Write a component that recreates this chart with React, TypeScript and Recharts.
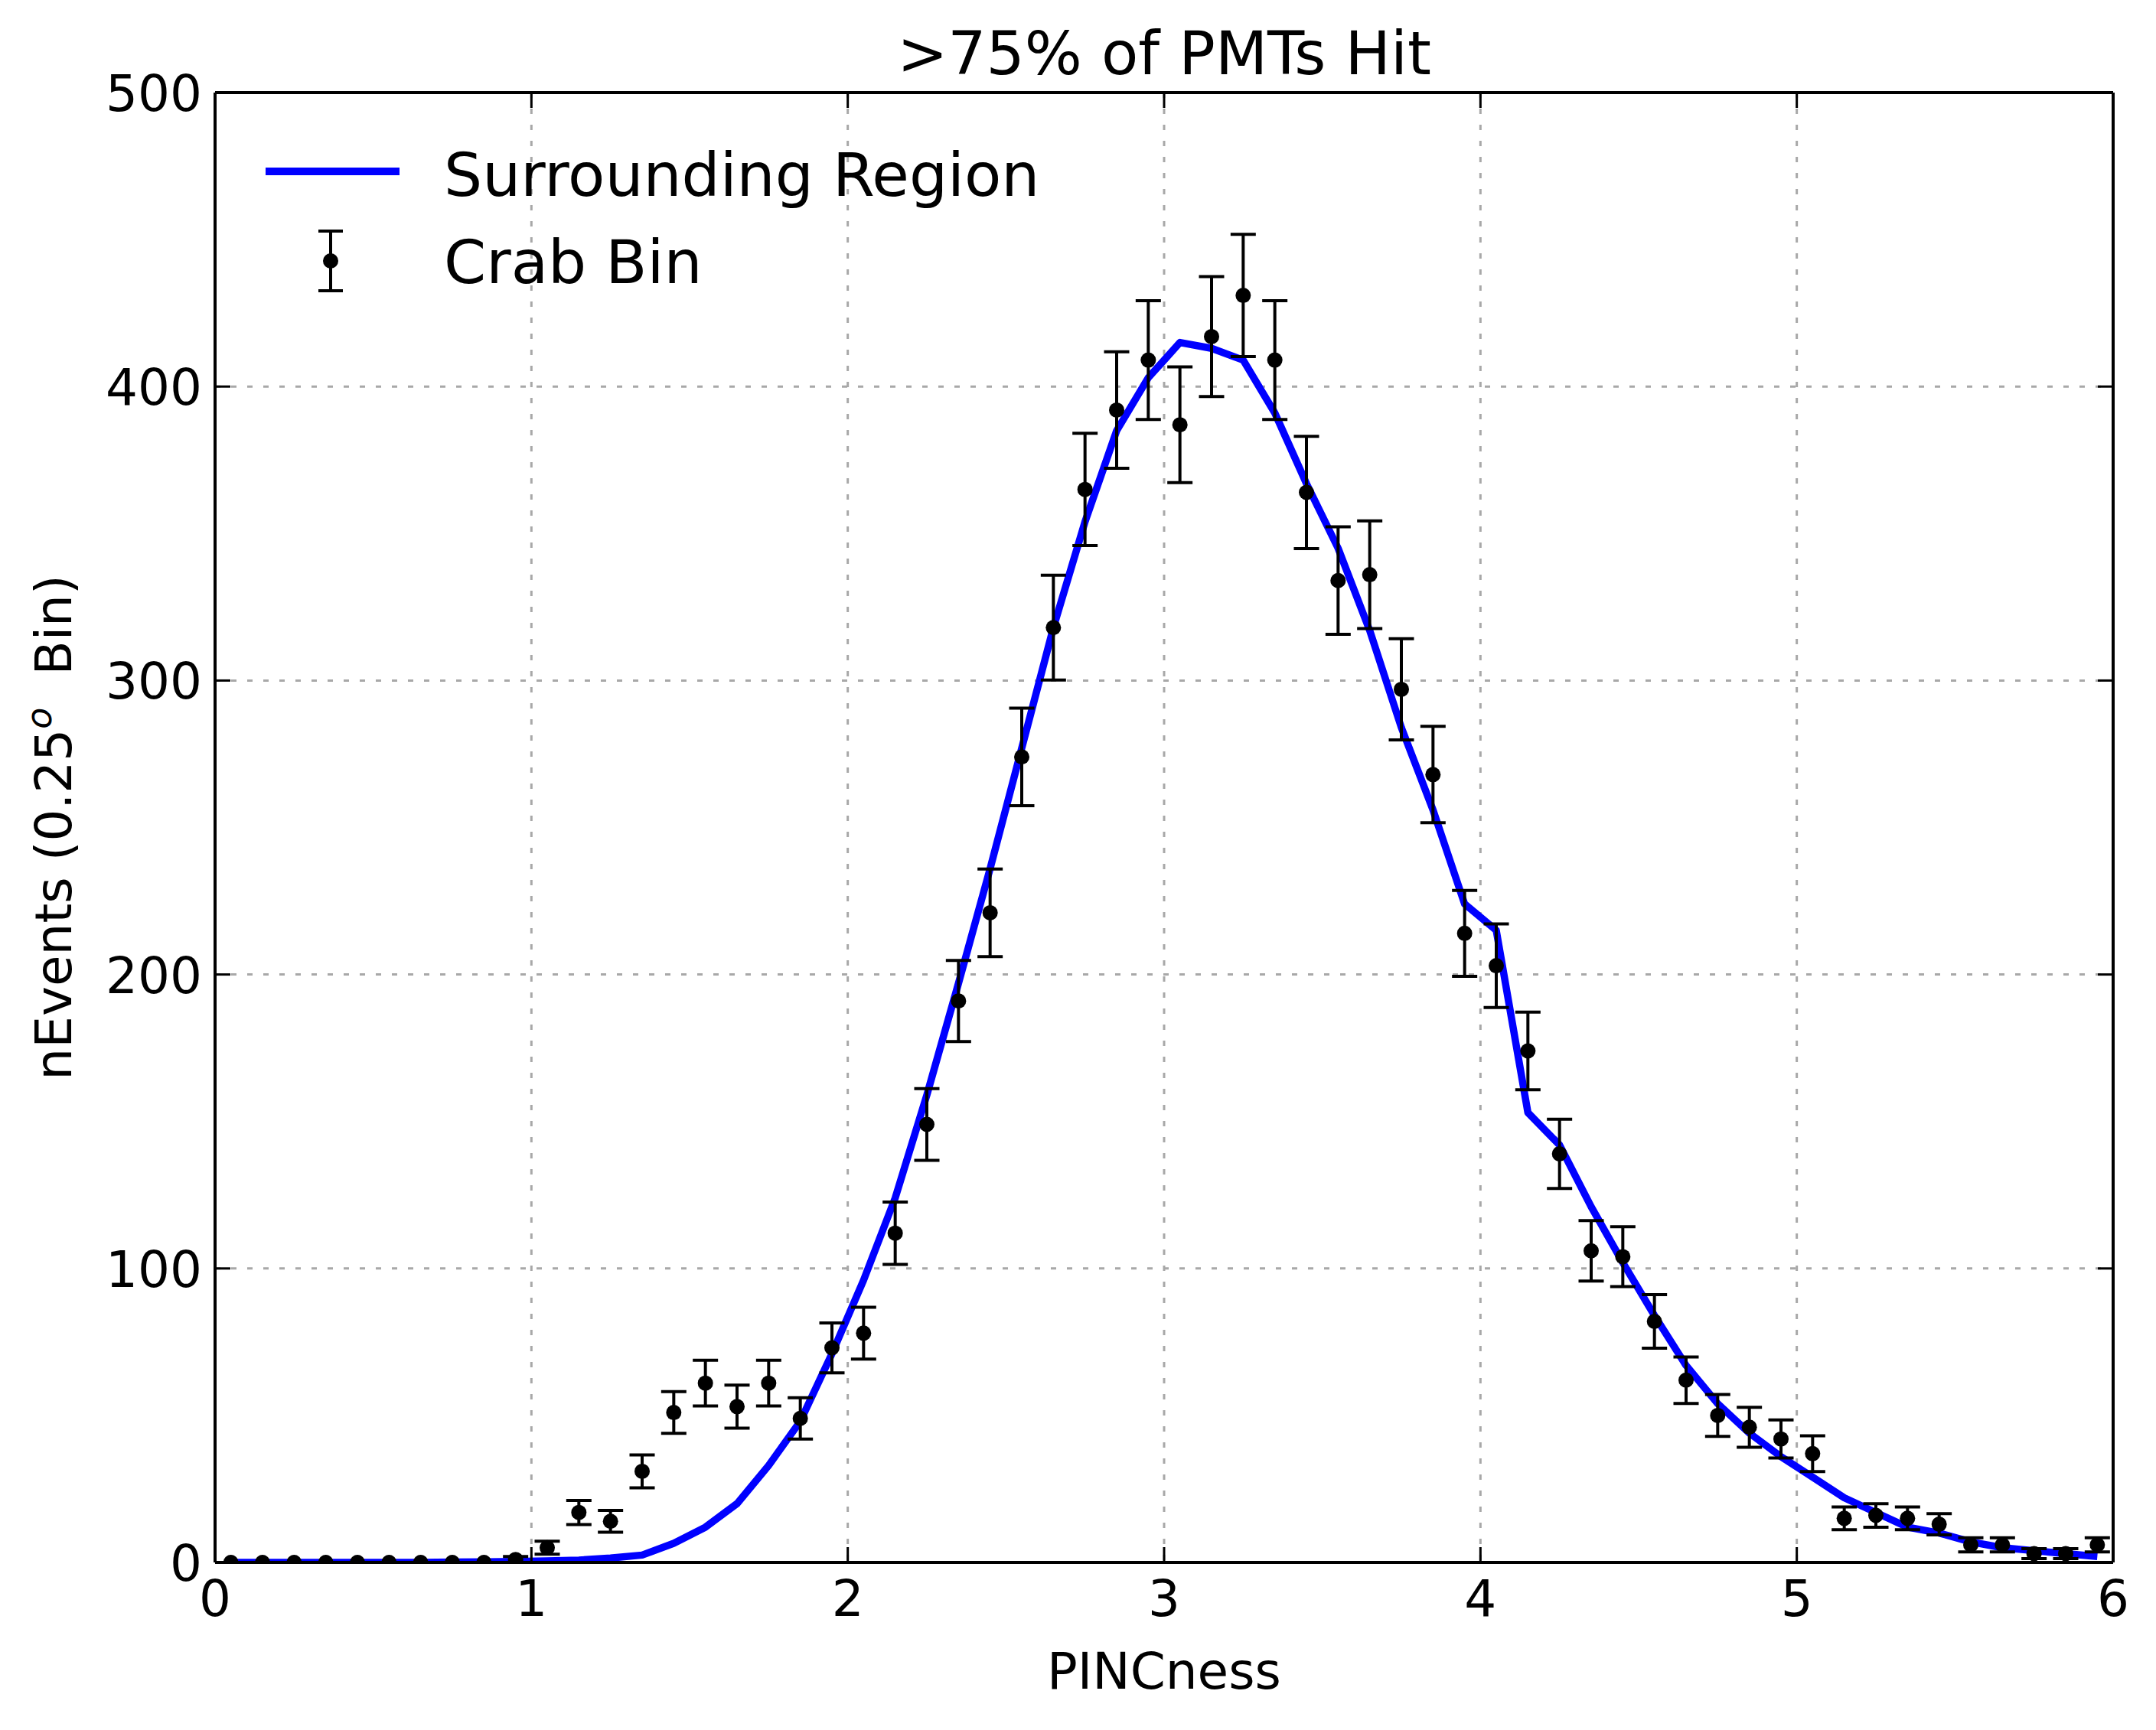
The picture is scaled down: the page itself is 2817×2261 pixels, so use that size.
import React from "react";
import {
  ComposedChart,
  Line,
  Scatter,
  ErrorBar,
  XAxis,
  YAxis,
  CartesianGrid,
  Customized,
} from "recharts";

// PINCness bin centres (0.1 wide bins)
const binCenters = [
  0.05, 0.15, 0.25, 0.35, 0.45, 0.55, 0.65, 0.75, 0.85, 0.95,
  1.05, 1.15, 1.25, 1.35, 1.45, 1.55, 1.65, 1.75, 1.85, 1.95,
  2.05, 2.15, 2.25, 2.35, 2.45, 2.55, 2.65, 2.75, 2.85, 2.95,
  3.05, 3.15, 3.25, 3.35, 3.45, 3.55, 3.65, 3.75, 3.85, 3.95,
  4.05, 4.15, 4.25, 4.35, 4.45, 4.55, 4.65, 4.75, 4.85, 4.95,
  5.05, 5.15, 5.25, 5.35, 5.45, 5.55, 5.65, 5.75, 5.85, 5.95,
];

// Crab bin counts
const crabCounts = [
  0, 0, 0, 0, 0, 0, 0, 0, 0, 1,
  5, 17, 14, 31, 51, 61, 53, 61, 49, 73,
  78, 112, 149, 191, 221, 274, 318, 365, 392, 409,
  387, 417, 431, 409, 364, 334, 336, 297, 268, 214,
  203, 174, 139, 106, 104, 82, 62, 50, 46, 42,
  37, 15, 16, 15, 13, 6, 6, 3, 3, 6,
];

// Crab bin error bars (half length)
const crabErrors = [
  0, 0, 0, 0, 0, 0, 0, 0, 0, 1,
  2.2, 4.1, 3.7, 5.6, 7.1, 7.8, 7.3, 7.8, 7, 8.5,
  8.8, 10.6, 12.2, 13.8, 14.9, 16.6, 17.8, 19.1, 19.8, 20.2,
  19.7, 20.4, 20.8, 20.2, 19.1, 18.3, 18.3, 17.2, 16.4, 14.6,
  14.2, 13.2, 11.8, 10.3, 10.2, 9.1, 7.9, 7.1, 6.8, 6.5,
  6.1, 3.9, 4, 3.9, 3.6, 2.4, 2.4, 1.7, 1.7, 2.4,
];

// Surrounding region (scaled) counts
const regionCounts = [
  0, 0, 0, 0, 0, 0, 0, 0.1, 0.2, 0.3,
  0.5, 0.8, 1.5, 2.5, 6.5, 12, 20, 33, 48, 71,
  96, 124, 159, 197, 236, 277, 318, 354, 385, 403,
  415, 413, 409, 391, 367, 345, 317, 284, 256, 224,
  215, 153, 142, 121, 102, 84, 67, 54, 44, 36,
  29, 22, 17, 12, 10, 7, 5, 4, 3, 2,
];

const xTicks = [0, 1, 2, 3, 4, 5, 6];
const yTicks = [0, 100, 200, 300, 400, 500];

const rows = binCenters.map((x, i) => ({
  x,
  crab: crabCounts[i],
  err: crabErrors[i],
  region: regionCounts[i],
}));

const W = 2817;
const H = 2261;
const FONT = "'DejaVu Sans', sans-serif";
const TICK_LEN = 20;
const TICK_FS = 66;

const BottomTick = (p: any) => (
  <g>
    <line x1={p.x} x2={p.x} y1={p.y} y2={p.y - TICK_LEN} stroke="#000" strokeWidth={3} />
    <text x={p.x} y={p.y + 70} textAnchor="middle" fontSize={TICK_FS} fill="#000">
      {p.payload.value}
    </text>
  </g>
);

const TopTick = (p: any) => (
  <line x1={p.x} x2={p.x} y1={p.y} y2={p.y + TICK_LEN} stroke="#000" strokeWidth={3} />
);

const LeftTick = (p: any) => (
  <g>
    <line x1={p.x} x2={p.x + TICK_LEN} y1={p.y} y2={p.y} stroke="#000" strokeWidth={3} />
    <text x={p.x - 17} y={p.y + 24} textAnchor="end" fontSize={TICK_FS} fill="#000">
      {p.payload.value}
    </text>
  </g>
);

const RightTick = (p: any) => (
  <line x1={p.x} x2={p.x - TICK_LEN} y1={p.y} y2={p.y} stroke="#000" strokeWidth={3} />
);

const CrabDot = (p: any) => <circle cx={p.cx} cy={p.cy} r={10} fill="#000" />;

const TitleLabel = (p: any) => {
  const vb = p.viewBox;
  return (
    <text x={vb.x + vb.width / 2} y={97} textAnchor="middle" fontSize={79} fill="#000">
      {">75% of PMTs Hit"}
    </text>
  );
};

const XLabel = (p: any) => {
  const vb = p.viewBox;
  return (
    <text x={vb.x + vb.width / 2} y={vb.y + 165} textAnchor="middle" fontSize={66} fill="#000">
      PINCness
    </text>
  );
};

const YLabel = (p: any) => {
  const vb = p.viewBox;
  const cy = vb.y + vb.height / 2;
  return (
    <text
      x={93}
      y={cy}
      transform={`rotate(-90, 93, ${cy})`}
      textAnchor="middle"
      fontSize={66}
      fill="#000"
    >
      nEvents (0.25
      <tspan fontSize={46} fontStyle="italic" dy={-26}>o</tspan>
      <tspan dy={26}>{"\u00a0\u00a0Bin)"}</tspan>
    </text>
  );
};

const LegendBox = () => (
  <g>
    <line x1={347} x2={522} y1={224} y2={224} stroke="#0000ff" strokeWidth={10} />
    <text x={580} y={256} fontSize={79} fill="#000">Surrounding Region</text>
    <line x1={432} x2={432} y1={302} y2={380} stroke="#000" strokeWidth={4} />
    <line x1={416} x2={448} y1={302} y2={302} stroke="#000" strokeWidth={4} />
    <line x1={416} x2={448} y1={380} y2={380} stroke="#000" strokeWidth={4} />
    <circle cx={432} cy={341} r={10} fill="#000" />
    <text x={580} y={370} fontSize={79} fill="#000">Crab Bin</text>
  </g>
);

export default function App() {
  return (
    <div style={{ position: "absolute", left: 0, top: 0, width: W, height: H, background: "#fff" }}>
      <ComposedChart
        width={W}
        height={H}
        data={rows}
        margin={{ top: 0, right: 0, bottom: 0, left: 0 }}
        style={{ fontFamily: FONT }}
      >
        <CartesianGrid stroke="#a8a8a8" strokeWidth={3} strokeDasharray="7 14" />
        <XAxis
          dataKey="x"
          type="number"
          domain={[0, 6]}
          ticks={xTicks}
          interval={0}
          allowDataOverflow
          height={219}
          tickSize={0}
          tickMargin={0}
          tick={BottomTick}
          axisLine={{ stroke: "#000", strokeWidth: 4 }}
          label={{ content: XLabel }}
        />
        <XAxis
          xAxisId="top"
          orientation="top"
          dataKey="x"
          type="number"
          domain={[0, 6]}
          ticks={xTicks}
          interval={0}
          allowDataOverflow
          height={121}
          tickSize={0}
          tickMargin={0}
          tick={TopTick}
          axisLine={{ stroke: "#000", strokeWidth: 4 }}
          label={{ content: TitleLabel }}
        />
        <YAxis
          type="number"
          domain={[0, 500]}
          ticks={yTicks}
          interval={0}
          allowDataOverflow
          width={281}
          tickSize={0}
          tickMargin={0}
          tick={LeftTick}
          axisLine={{ stroke: "#000", strokeWidth: 4 }}
          label={{ content: YLabel }}
        />
        <YAxis
          yAxisId="right"
          orientation="right"
          type="number"
          domain={[0, 500]}
          ticks={yTicks}
          interval={0}
          allowDataOverflow
          width={56}
          tickSize={0}
          tickMargin={0}
          tick={RightTick}
          axisLine={{ stroke: "#000", strokeWidth: 4 }}
        />
        <Line
          dataKey="region"
          name="Surrounding Region"
          type="linear"
          stroke="#0000ff"
          strokeWidth={9.5}
          strokeLinejoin="round"
          dot={false}
          activeDot={false}
          isAnimationActive={false}
        />
        <Scatter
          data={rows}
          dataKey="crab"
          name="Crab Bin"
          shape={CrabDot}
          isAnimationActive={false}
        >
          <ErrorBar dataKey="err" direction="y" width={16.5} strokeWidth={4} stroke="#000" isAnimationActive={false} />
        </Scatter>
        <Customized component={LegendBox} />
      </ComposedChart>
    </div>
  );
}
